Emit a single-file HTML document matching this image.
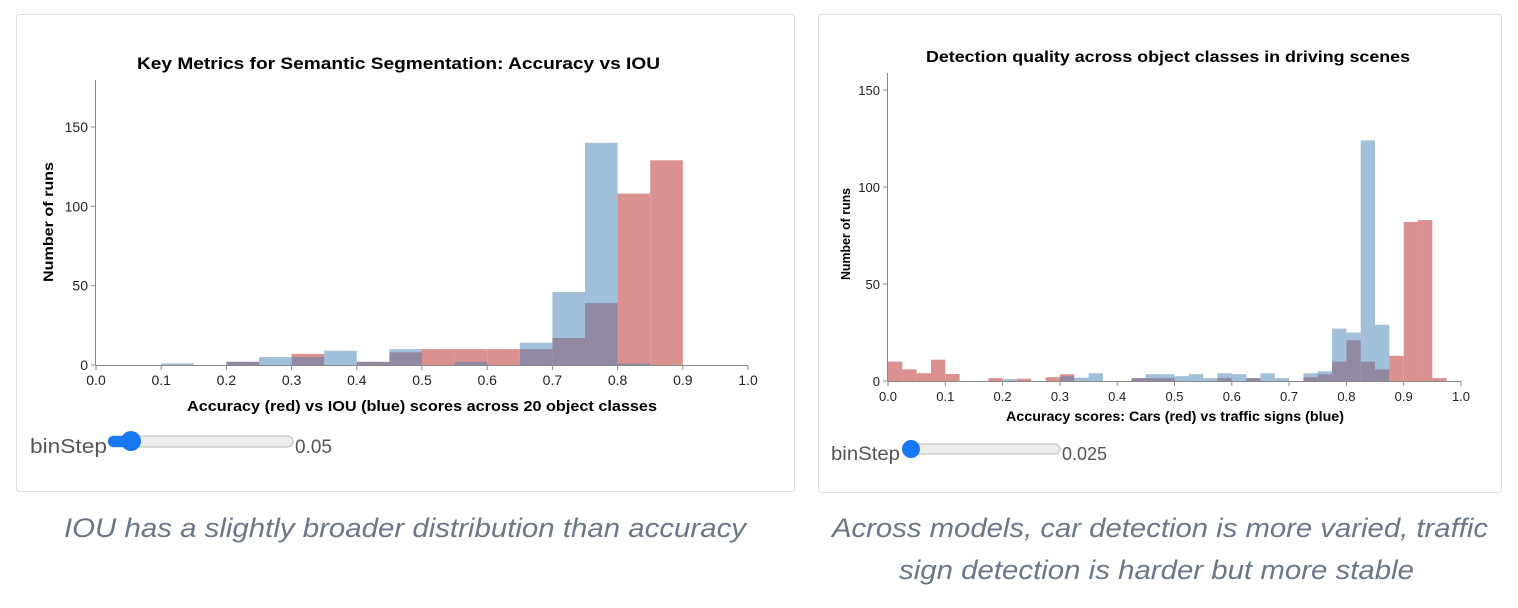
<!DOCTYPE html>
<html><head><meta charset="utf-8"><style>
body{margin:0;background:#fff;width:1518px;height:608px;overflow:hidden}
svg{display:block}
</style></head><body>
<svg id="s" width="1518" height="608" xmlns="http://www.w3.org/2000/svg" font-family="Liberation Sans, sans-serif">
<rect x="16.5" y="14.5" width="778" height="477" fill="#fff" stroke="#ddd" rx="3"/>
<rect x="818.5" y="14.5" width="683" height="478" fill="#fff" stroke="#ddd" rx="3"/>
<text x="137" y="69" textLength="523" lengthAdjust="spacingAndGlyphs" font-size="17" font-weight="bold" fill="#000">Key Metrics for Semantic Segmentation: Accuracy vs IOU</text>
<text x="926" y="62" textLength="484" lengthAdjust="spacingAndGlyphs" font-size="16" font-weight="bold" fill="#000">Detection quality across object classes in driving scenes</text>
<g id="c1"></g><g id="c2"></g>
<text x="187" y="411" textLength="470" lengthAdjust="spacingAndGlyphs" font-size="15" font-weight="bold">Accuracy (red) vs IOU (blue) scores across 20 object classes</text>
<text x="1006" y="421" textLength="338" lengthAdjust="spacingAndGlyphs" font-size="13.5" font-weight="bold">Accuracy scores: Cars (red) vs traffic signs (blue)</text>
<text transform="translate(53,282) rotate(-90)" textLength="120" lengthAdjust="spacingAndGlyphs" font-size="14" font-weight="bold">Number of runs</text>
<text transform="translate(850,280) rotate(-90)" textLength="92" lengthAdjust="spacingAndGlyphs" font-size="12.5" font-weight="bold">Number of runs</text>
<text x="30" y="453" textLength="77" lengthAdjust="spacingAndGlyphs" font-size="20" fill="#555">binStep</text>
<rect x="108" y="436" width="185" height="11" rx="5.5" fill="#eee" stroke="#bbb"/>
<rect x="108" y="436" width="20" height="11" rx="5.5" fill="#1877f2"/>
<circle cx="131" cy="441" r="10" fill="#1877f2"/>
<text x="295" y="453" font-size="19" fill="#555">0.05</text>
<text x="831" y="460" textLength="69" lengthAdjust="spacingAndGlyphs" font-size="19" fill="#555">binStep</text>
<rect x="903" y="444" width="157" height="10" rx="5" fill="#eee" stroke="#bbb"/>
<circle cx="911" cy="449" r="9" fill="#1877f2"/>
<text x="1062" y="460" font-size="18" fill="#555">0.025</text>
<g font-family="Liberation Sans, sans-serif" font-style="italic" font-size="27" fill="#6b7787" lengthAdjust="spacingAndGlyphs">
<text x="64" y="537" textLength="682" lengthAdjust="spacingAndGlyphs">IOU has a slightly broader distribution than accuracy</text>
<text x="832" y="537" textLength="656" lengthAdjust="spacingAndGlyphs">Across models, car detection is more varied, traffic</text>
<text x="899" y="579" textLength="515" lengthAdjust="spacingAndGlyphs">sign detection is harder but more stable</text>
</g>
</svg>
<script>
const NS="http://www.w3.org/2000/svg";
function el(p,t,a,txt){const e=document.createElementNS(NS,t);for(const k in a)e.setAttribute(k,a[k]);if(txt!==undefined)e.textContent=txt;p.appendChild(e);return e;}
function chart(id,x0,x1,y0,yTop,ppu,step,red,blue,ticksY,fs){
 const g=document.getElementById(id);const W=x1-x0;
 for(const k in red){const v=red[k];const x=x0+(+k)*W;el(g,'rect',{x:x,y:y0-v*ppu,width:step*W,height:v*ppu,fill:'#dc9191'});}
 for(const k in blue){const v=blue[k];const x=x0+(+k)*W;el(g,'rect',{x:x,y:y0-v*ppu,width:step*W,height:v*ppu,fill:'rgba(70,130,180,0.5)'});}
 el(g,'line',{x1:x0-0.5,x2:x0-0.5,y1:yTop,y2:y0,stroke:'#888'});
 el(g,'line',{x1:x0,x2:x1,y1:y0+0.5,y2:y0+0.5,stroke:'#888'});
 for(let i=0;i<=10;i++){const x=x0+i/10*W;el(g,'line',{x1:x,x2:x,y1:y0,y2:y0+5,stroke:'#888'});
  el(g,'text',{x:x,y:y0+20,'text-anchor':'middle','font-size':fs,fill:'#222'},(i/10).toFixed(1));}
 for(const v of ticksY){const y=y0-v*ppu;el(g,'line',{x1:x0-5,x2:x0,y1:y,y2:y,stroke:'#888'});
  el(g,'text',{x:x0-8,y:y+5,'text-anchor':'end','font-size':fs,fill:'#222'},v);}
}
chart('c1',96,748,365,80,1.587,0.05,
 {0.2:2,0.3:7,0.4:2,0.45:8,0.5:10,0.55:10,0.6:10,0.65:10,0.7:17,0.75:39,0.8:108,0.85:129},
 {0.1:1,0.2:2,0.25:5,0.3:5,0.35:9,0.4:2,0.45:10,0.55:2,0.65:14,0.7:46,0.75:140,0.8:1},[0,50,100,150],14);
chart('c2',888,1461,381,73,1.94,0.025,
 {0:10,0.025:6,0.05:4,0.075:11,0.1:3.6,0.175:1.5,0.225:1.2,0.275:2,0.3:3.5,0.425:1.5,0.45:1.5,0.475:1.5,0.575:1.5,0.625:1.5,0.725:2,0.75:3.5,0.775:10,0.8:21,0.825:10,0.85:6,0.875:13,0.9:82,0.925:83,0.95:1.5},
 {0.2:1,0.3:2.4,0.325:1.7,0.35:4,0.425:1.5,0.45:3.5,0.475:3.5,0.5:2.5,0.525:3.5,0.55:1.5,0.575:4,0.6:3.5,0.625:1.5,0.65:4,0.675:1.5,0.725:4,0.75:5,0.775:27,0.8:25,0.825:124,0.85:29},[0,50,100,150],13);
</script>
</body></html>
